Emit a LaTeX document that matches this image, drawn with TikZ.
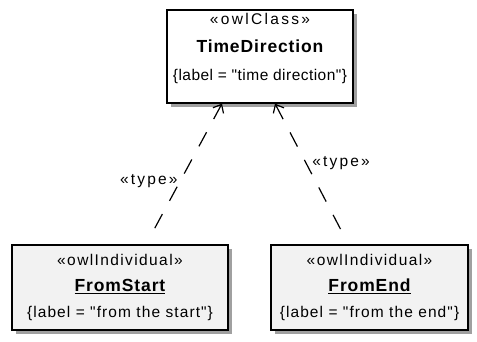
\documentclass[tikz,border=0pt]{standalone}
\usepackage{fontspec}
\setmainfont{Liberation Sans}[Ligatures=TeXOff]
\usetikzlibrary{arrows.meta, shadows}
\definecolor{boxgray}{RGB}{242,242,242}
\definecolor{shadowgray}{RGB}{160,160,160}
\newcommand{\spaced}[2]{{\addfontfeature{LetterSpace=#1}#2}}
\newcommand{\stereo}[1]{\spaced{9}{«#1»}}
\newcommand{\boldname}[1]{{\fontsize{17.5}{26}\selectfont\bfseries\spaced{5}{#1}}}
\newcommand{\instname}[1]{\underline{\boldname{#1}}}

\begin{document}
\begin{tikzpicture}[
    x=1pt, y=-1pt,
    classbox/.style={draw, line width=1.2pt, fill=white,
      drop shadow={shadow xshift=4pt, shadow yshift=-4pt, fill=shadowgray, opacity=1}},
    instbox/.style={classbox, fill=boxgray, align=center, font=\fontsize{15.5}{26}\selectfont},
    boxtext/.style={align=center, font=\fontsize{15.5}{28}\selectfont, inner sep=0pt},
    typearr/.style={{Straight Barb[length=7pt, width=12pt]}-, line width=1.2pt, dash pattern=on 16pt off 15pt},
    lbl/.style={font=\fontsize{15.5}{18}\selectfont, inner sep=2pt}
]
\useasboundingbox (0,0) rectangle (477,341);

\node[classbox, minimum width=186pt, minimum height=93pt] (timedir) at (260,56.5) {};
\node[boxtext] (timedirtext) at (260,48)
  {\spaced{15}{«owlClass»}\\ \boldname{TimeDirection}\\ \spaced{3}{\{label = "time direction"\}}};
\node[instbox, minimum width=216pt, minimum height=85pt] (fromstart) at (120,287.5)
  {\stereo{owlIndividual}\\ \instname{FromStart}\\ \spaced{7}{\{label = "from the start"\}}};
\node[instbox, minimum width=197pt, minimum height=85pt] (fromend) at (369.5,287.5)
  {\stereo{owlIndividual}\\ \instname{FromEnd}\\ \spaced{7}{\{label = "from the end"\}}};

% instances typed by the class
\draw[typearr, shorten >=7pt] ([xshift=-38pt]timedir.south) -- node[lbl, pos=0.55, left]{\spaced{14}{«type»}} ([xshift=26pt]fromstart.north);
\draw[typearr, shorten >=7pt] ([xshift=15pt]timedir.south) -- node[lbl, pos=0.42, right, xshift=4pt]{\spaced{14}{«type»}} ([xshift=-21pt]fromend.north);

\end{tikzpicture}
\end{document}
